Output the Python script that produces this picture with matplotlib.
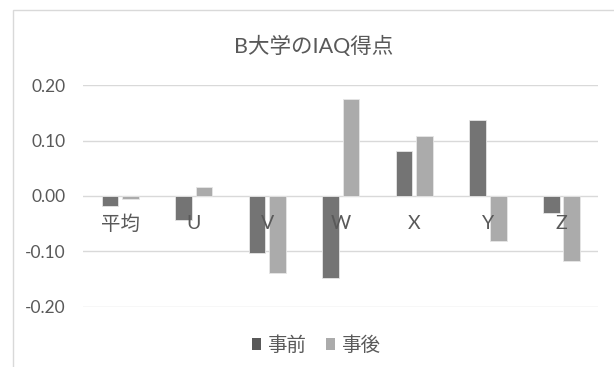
import matplotlib
matplotlib.use("Agg")
import matplotlib.pyplot as plt
from matplotlib.patches import Rectangle
import numpy as np

plt.rcParams['font.family'] = ['Lato', 'Noto Sans CJK JP', 'DejaVu Sans']

categories = ['平均', 'U', 'V', 'W', 'X', 'Y', 'Z']
before = [-0.018, -0.044, -0.103, -0.148, 0.081, 0.138, -0.031]
after = [-0.006, 0.017, -0.140, 0.176, 0.109, -0.081, -0.118]
yticks = [-0.20, -0.10, 0.00, 0.10, 0.20]

text_col = '#595959'
grid_col = '#d9d9d9'
c_before = '#747474'
c_after = '#ababab'

W, H = 614, 367
fig = plt.figure(figsize=(W / 100, H / 100), dpi=100)

# chart frame (runs off the right and bottom edge)
fig.patches.append(Rectangle((12.5 / W, -0.1), 1.2, 1.1 - 9.5 / H,
                             transform=fig.transFigure, fill=False,
                             edgecolor=grid_col, linewidth=1.0))

ax = fig.add_axes([83.3 / W, 1 - 306.7 / H, (598.3 - 83.3) / W, (306.7 - 85.3) / H])

x = np.arange(len(categories))
bw = 0.227
off = 0.139
ax.bar(x - off, before, bw, color=c_before, edgecolor='#e6e6e6', linewidth=0.6,
       label='事前', zorder=3)
ax.bar(x + off, after, bw, color=c_after, edgecolor='#e6e6e6', linewidth=0.6,
       label='事後', zorder=3)

ax.set_xlim(-0.5, len(categories) - 0.5)
ax.set_ylim(yticks[0], yticks[-1])
ax.set_yticks(yticks)
ax.set_yticklabels([f'{v:.2f}' for v in yticks])
ax.tick_params(axis='y', length=0, pad=13, labelsize=12.5, labelcolor=text_col)
ax.set_xticks([])
for s in ax.spines.values():
    s.set_visible(False)
for v in yticks:
    ax.axhline(v, color=grid_col, linewidth=1.0, zorder=1)

# category labels sit just below the zero line, over the bars
for i, lab in enumerate(categories):
    ax.annotate(lab, (i, 0), xytext=(0, -20), textcoords='offset points',
                ha='center', va='center', fontsize=14, color=text_col, zorder=5)

fig.text(0.5 * (230 + 398) / W, 1 - 46.5 / H, 'B大学のIAQ得点', ha='center',
         va='center', fontsize=15.5, color=text_col)

leg = fig.legend(loc='center', bbox_to_anchor=(316 / W, 1 - 344.5 / H), ncol=2,
                 frameon=False, fontsize=14, handlelength=0.5, handleheight=0.6,
                 handletextpad=0.3, columnspacing=1.0, labelcolor=text_col)
leg.legend_handles[0].set_facecolor('#595959')
for h in leg.legend_handles:
    h.set_edgecolor('none')

fig.savefig('out.png', dpi=100)
